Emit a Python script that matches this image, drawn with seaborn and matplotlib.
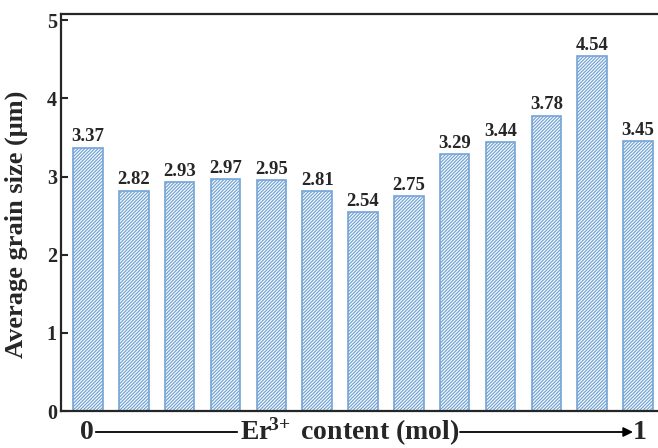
import numpy as np
import pandas as pd
import matplotlib
matplotlib.use("Agg")
import matplotlib.pyplot as plt
import seaborn as sns

# grain size for each sample, Er3+ content rising from 0 to 1 mol
samples = [str(i) for i in range(13)]
grain_size = [3.37, 2.82, 2.93, 2.97, 2.95, 2.81, 2.54, 2.75, 3.29, 3.44, 3.78, 4.54, 3.45]
y_ticks = [0, 1, 2, 3, 4, 5]


def main():
    sns.set_style("ticks")
    plt.rcParams['font.family'] = ['Liberation Serif', 'DejaVu Serif']
    plt.rcParams['font.weight'] = 'bold'
    plt.rcParams['mathtext.fontset'] = 'custom'
    plt.rcParams['mathtext.rm'] = 'Liberation Serif:bold'
    plt.rcParams['mathtext.it'] = 'Liberation Serif:bold'
    plt.rcParams['mathtext.bf'] = 'Liberation Serif:bold'
    plt.rcParams['hatch.linewidth'] = 0.9

    df = pd.DataFrame({'sample': samples, 'size': grain_size})

    fig = plt.figure(figsize=(6.58, 4.48), dpi=100)
    ax = fig.add_axes([61 / 658, 37 / 448, 604 / 658, 397 / 448])

    sns.barplot(data=df, x='sample', y='size', ax=ax, width=0.645,
                color='white', edgecolor='#74a4d4', linewidth=1.2, saturation=1)
    for p in ax.patches:
        p.set_hatch('//////////')

    for i, v in enumerate(grain_size):
        ax.text(i, v + 0.03, f"{v:.2f}", ha='center', va='bottom',
                fontsize=13.5, fontweight='bold')

    ax.set_xlim(-0.59, 12.59)
    ax.set_ylim(0, 5.08)
    ax.set_yticks(y_ticks)
    ax.set_yticklabels([str(t) for t in y_ticks], fontsize=14.5, fontweight='bold')
    ax.set_xticklabels([])
    ax.tick_params(axis='both', direction='in', width=1.5)
    ax.tick_params(axis='y', length=5, pad=3)
    ax.tick_params(axis='x', length=4)
    ax.set_xlabel('')
    ax.set_ylabel('Average grain size (μm)', fontsize=19, fontweight='bold')
    ax.yaxis.set_label_coords(-0.055, 0.47)
    for s in ax.spines.values():
        s.set_linewidth(1.6)
        s.set_visible(True)

    # x axis caption: 0 ---- Er3+ content (mol) ----> 1
    fig.text(87 / 658, 1 - 432 / 448, '0', ha='center', va='center',
             fontsize=20, fontweight='bold')
    fig.text(350 / 658, 1 - 432 / 448, 'Er$^{\\!3\\!+}$ content (mol)', ha='center', va='center',
             fontsize=20, fontweight='bold')
    fig.text(640 / 658, 1 - 432 / 448, '1', ha='center', va='center',
             fontsize=20, fontweight='bold')
    ax.annotate('', xy=(240, 16), xytext=(93, 16), xycoords='figure pixels',
                arrowprops=dict(arrowstyle='-', lw=1.3, color='black'))
    ax.annotate('', xy=(633, 16), xytext=(460, 16), xycoords='figure pixels',
                arrowprops=dict(arrowstyle='-|>', lw=1.3, color='black',
                                mutation_scale=14, shrinkA=0, shrinkB=0))

    fig.savefig('out.png', dpi=100)
    plt.close(fig)


if __name__ == "__main__":
    main()
